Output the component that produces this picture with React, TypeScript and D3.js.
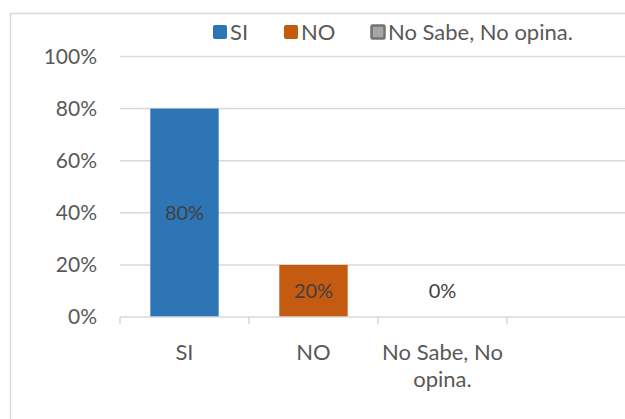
import React from 'react';
import * as d3 from 'd3';

// categories / values
const categories = ["SI", "NO", "No Sabe, No opina.", ""];
const catLines = [["SI"], ["NO"], ["No Sabe, No", "opina."], [""]];
const values = [0.8, 0.2, 0, null];
const colors = ["#2E75B6", "#C55A11", "#A5A5A5"];
const legendNames = ["SI", "NO", "No Sabe, No opina."];
const yTicks = [0, 0.2, 0.4, 0.6, 0.8, 1];

const width = 625;
const height = 419;
const font = "Lato, 'Open Sans', sans-serif";

function App() {
    const xScale = d3.scaleBand<string>()
        .domain(categories)
        .range([120, 636])
        .paddingInner(0.47)
        .paddingOuter(0.235);

    const yScale = d3.scaleLinear()
        .domain([0, 1])
        .range([317, 56.5]);

    const fmt = d3.format(".0%");
    const step = xScale.step();
    const bounds = d3.range(categories.length + 1).map(i => 120 + i * step);

    // legend layout
    const legendX = [213, 284, 371];

    return (
        <svg width={width} height={height} style={{position: 'absolute', left: 0, top: 0, background: '#fff'}}>
            <rect x={10.5} y={13.5} width={700} height={500} fill="#fff" stroke="#d9d9d9" strokeWidth={1.5} />

            {/* gridlines */}
            {yTicks.slice(1).map(t => (
                <line key={t} x1={120} x2={width} y1={yScale(t)} y2={yScale(t)} stroke="#d9d9d9" strokeWidth={1.5} />
            ))}

            {/* y tick labels */}
            {yTicks.map(t => (
                <text key={t} x={97} y={yScale(t)} dy="0.35em" textAnchor="end" fontFamily={font} fontSize={21} fill="#595959">
                    {fmt(t)}
                </text>
            ))}

            {/* bars */}
            {values.map((v, i) => v === null ? null : (
                <rect key={i}
                    x={xScale(categories[i])}
                    y={yScale(v)}
                    width={xScale.bandwidth()}
                    height={yScale(0) - yScale(v)}
                    fill={colors[i]} />
            ))}

            {/* x axis */}
            <line x1={120} x2={width} y1={yScale(0)} y2={yScale(0)} stroke="#d9d9d9" strokeWidth={1.5} />
            {bounds.map(b => (
                <line key={b} x1={b} x2={b} y1={yScale(0)} y2={yScale(0) + 7} stroke="#d9d9d9" strokeWidth={1.5} />
            ))}

            {/* data labels */}
            {values.map((v, i) => v === null ? null : (
                <text key={i}
                    x={xScale(categories[i])! + xScale.bandwidth() / 2}
                    y={yScale(v > 0 ? v / 2 : 0.1)}
                    dy="0.35em" textAnchor="middle" fontFamily={font} fontSize={20} fill="#404040">
                    {fmt(v)}
                </text>
            ))}

            {/* category labels */}
            {catLines.map((lines, i) => (
                <text key={i} x={xScale(categories[i])! + xScale.bandwidth() / 2} y={352}
                    textAnchor="middle" fontFamily={font} fontSize={22} fill="#595959">
                    {lines.map((l, j) => (
                        <tspan key={j} x={xScale(categories[i])! + xScale.bandwidth() / 2} dy={j === 0 ? "0.35em" : 27}>{l}</tspan>
                    ))}
                </text>
            ))}

            {/* legend */}
            {legendNames.map((n, i) => (
                <g key={n} transform={"translate(" + legendX[i] + ",25)"}>
                    <rect x={0.5} y={0.5} width={13} height={13}
                        fill={colors[i]}
                        stroke={i === 2 ? "#767171" : colors[i]} strokeWidth={i === 2 ? 2.5 : 1} rx={1} />
                    <text x={17} y={7} dy="0.35em" fontFamily={font} fontSize={22} fill="#595959">{n}</text>
                </g>
            ))}
        </svg>
    );
}

export default App;
